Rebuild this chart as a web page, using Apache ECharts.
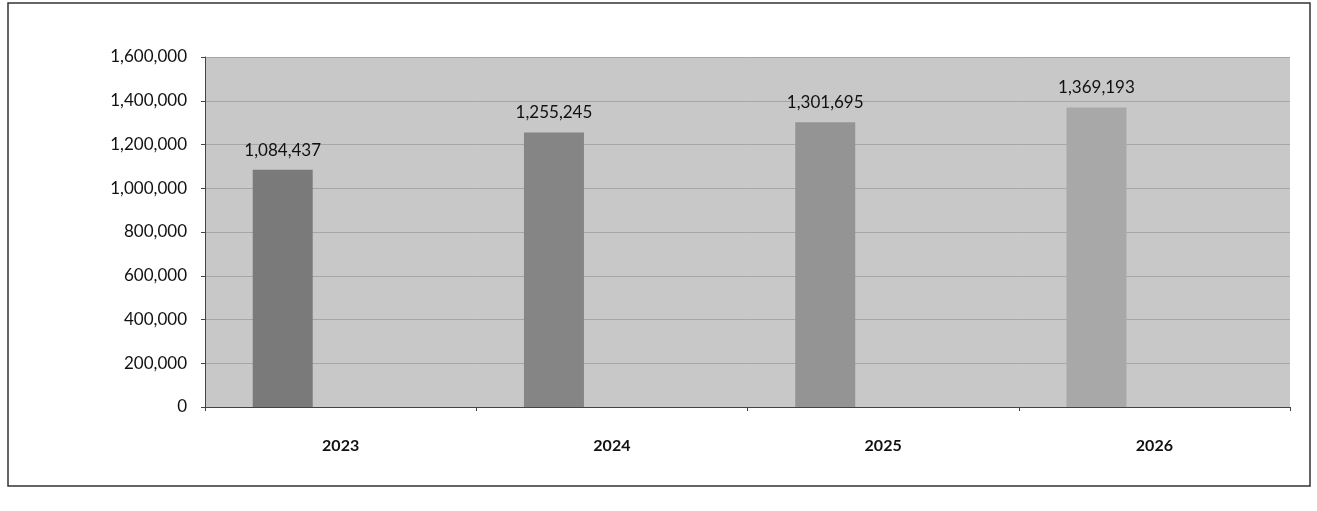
<!DOCTYPE html>
<html>
<head>
<meta charset="utf-8">
<script src="https://cdn.jsdelivr.net/npm/echarts@6/dist/echarts.min.js"></script>
<style>html,body{margin:0;padding:0;background:#fff;}#c{width:1317px;height:511px;}</style>
</head>
<body>
<div id="c"></div>
<script>
var categories = ['2023', '2024', '2025', '2026'];
var values = [1084437, 1255245, 1301695, 1369193];
var barColors = ['#7a7a7a', '#858585', '#949494', '#a8a8a8'];
var yTicks = [0, 200000, 400000, 600000, 800000, 1000000, 1200000, 1400000, 1600000];

var chart = echarts.init(document.getElementById('c'));
var fontFam = 'Lato, "Open Sans", sans-serif';
chart.setOption({
  animation: false,
  backgroundColor: '#ffffff',
  graphic: [{
    type: 'rect', shape: {x: 8, y: 3, width: 1302, height: 483},
    style: {fill: 'none', stroke: '#333', lineWidth: 1.5}, z: -1
  }],
  grid: {left: 205, right: 27, top: 57, bottom: 104, backgroundColor: '#c8c8c8', show: true, borderWidth: 0},
  xAxis: {
    type: 'category', data: categories,
    axisLine: {lineStyle: {color: '#444', width: 1}},
    axisTick: {show: true, alignWithLabel: false, length: 4, lineStyle: {color: '#444'}},
    axisLabel: {fontFamily: fontFam, fontSize: 16, fontWeight: 'bold', color: '#111', margin: 31}
  },
  yAxis: {
    type: 'value', min: yTicks[0], max: yTicks[yTicks.length - 1], interval: 200000,
    axisLine: {show: true, lineStyle: {color: '#444', width: 1}},
    axisTick: {show: true, length: 4, lineStyle: {color: '#444'}},
    splitLine: {lineStyle: {color: '#a6a6a6', width: 1}},
    axisLabel: {fontFamily: fontFam, fontSize: 17, color: '#111', margin: 18,
      formatter: function (v) { return v.toLocaleString('en-US'); }}
  },
  series: [{
    type: 'bar', barWidth: 60, barGap: '93%',
    data: values.map(function (v, i) { return {value: v, itemStyle: {color: barColors[i]}}; }),
    label: {show: true, position: 'top', distance: 11, fontFamily: fontFam, fontSize: 17, color: '#111',
      formatter: function (p) { return p.value.toLocaleString('en-US'); }}
  }, {
    type: 'bar', barWidth: 60, data: [null, null, null, null]
  }]
});
</script>
</body>
</html>
